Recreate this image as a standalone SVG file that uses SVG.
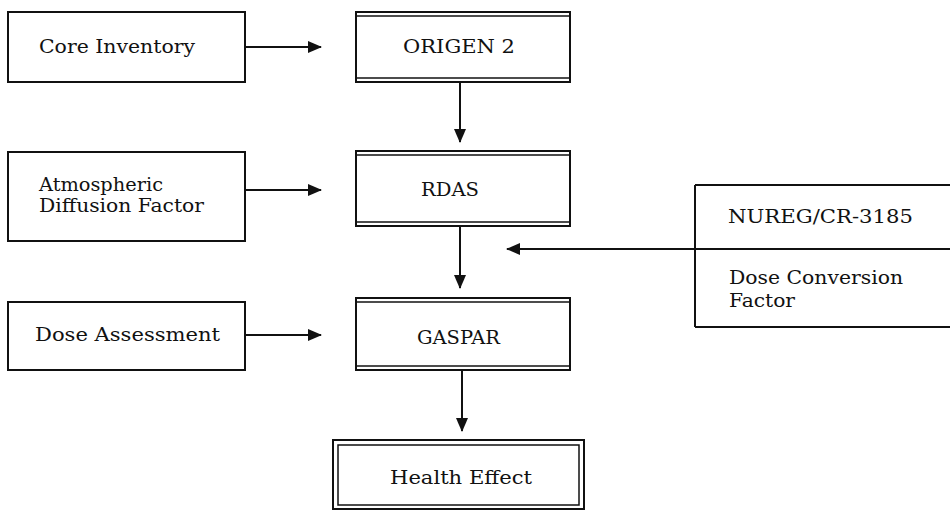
<svg xmlns="http://www.w3.org/2000/svg" width="950" height="512" viewBox="0 0 950 512">
<style>
.box{fill:#fff;stroke:#111;stroke-width:2}
.ln{stroke:#111;stroke-width:2;fill:none}
.thin{stroke:#111;stroke-width:1.5;fill:none}
.t{font-family:"DejaVu Serif","Liberation Serif",serif;font-size:19px;fill:#111}
</style>
<defs>
<marker id="ah" markerWidth="14" markerHeight="12" refX="13" refY="6" orient="auto" markerUnits="userSpaceOnUse">
<path d="M0,0 L14,6 L0,12 Z" fill="#111"/>
</marker>
</defs>
<rect width="950" height="512" fill="#fff"/>
<g id="core-inventory">
<rect class="box" x="8" y="12" width="237" height="70"/>
<text class="t" x="39" y="53" textLength="156" lengthAdjust="spacingAndGlyphs">Core Inventory</text>
</g>
<g id="atmospheric">
<rect class="box" x="8" y="152" width="237" height="89"/>
<text class="t" x="39" y="191" textLength="124" lengthAdjust="spacingAndGlyphs">Atmospheric</text>
<text class="t" x="39" y="212" textLength="165" lengthAdjust="spacingAndGlyphs">Diffusion Factor</text>
</g>
<g id="dose-assessment">
<rect class="box" x="8" y="302" width="237" height="68"/>
<text class="t" x="35" y="341" textLength="185" lengthAdjust="spacingAndGlyphs">Dose Assessment</text>
</g>
<g id="origen">
<rect class="box" x="356" y="12" width="214" height="70"/>
<line class="thin" x1="356" y1="16" x2="570" y2="16"/>
<line class="thin" x1="356" y1="78" x2="570" y2="78"/>
<text class="t" x="403" y="53" textLength="112" lengthAdjust="spacingAndGlyphs">ORIGEN 2</text>
</g>
<g id="rdas">
<rect class="box" x="356" y="151" width="214" height="75"/>
<line class="thin" x1="356" y1="155" x2="570" y2="155"/>
<line class="thin" x1="356" y1="222" x2="570" y2="222"/>
<text class="t" x="421" y="196" textLength="58" lengthAdjust="spacingAndGlyphs">RDAS</text>
</g>
<g id="gaspar">
<rect class="box" x="356" y="298" width="214" height="72"/>
<line class="thin" x1="356" y1="302" x2="570" y2="302"/>
<line class="thin" x1="356" y1="366" x2="570" y2="366"/>
<text class="t" x="417" y="344" textLength="83" lengthAdjust="spacingAndGlyphs">GASPAR</text>
</g>
<g id="health-effect">
<rect class="box" x="333" y="440" width="251" height="69"/>
<rect class="thin" x="338" y="445" width="241" height="60"/>
<text class="t" x="390" y="484" textLength="142" lengthAdjust="spacingAndGlyphs">Health Effect</text>
</g>
<g id="nureg">
<line class="ln" x1="695" y1="185" x2="950" y2="185"/>
<line class="ln" x1="695" y1="185" x2="695" y2="327"/>
<line class="ln" x1="695" y1="327" x2="950" y2="327"/>
<text class="t" x="728" y="223" textLength="185" lengthAdjust="spacingAndGlyphs">NUREG/CR-3185</text>
<text class="t" x="729" y="284" textLength="174" lengthAdjust="spacingAndGlyphs">Dose Conversion</text>
<text class="t" x="729" y="307" textLength="66" lengthAdjust="spacingAndGlyphs">Factor</text>
</g>
<g id="connectors">
<line class="ln" x1="245" y1="47" x2="321" y2="47" marker-end="url(#ah)"/>
<line class="ln" x1="245" y1="190" x2="321" y2="190" marker-end="url(#ah)"/>
<line class="ln" x1="245" y1="335" x2="321" y2="335" marker-end="url(#ah)"/>
<line class="ln" x1="460" y1="82" x2="460" y2="142" marker-end="url(#ah)"/>
<line class="ln" x1="460" y1="226" x2="460" y2="288" marker-end="url(#ah)"/>
<line class="ln" x1="462" y1="370" x2="462" y2="431" marker-end="url(#ah)"/>
<line class="ln" x1="950" y1="249" x2="507" y2="249" marker-end="url(#ah)"/>
</g>
</svg>
